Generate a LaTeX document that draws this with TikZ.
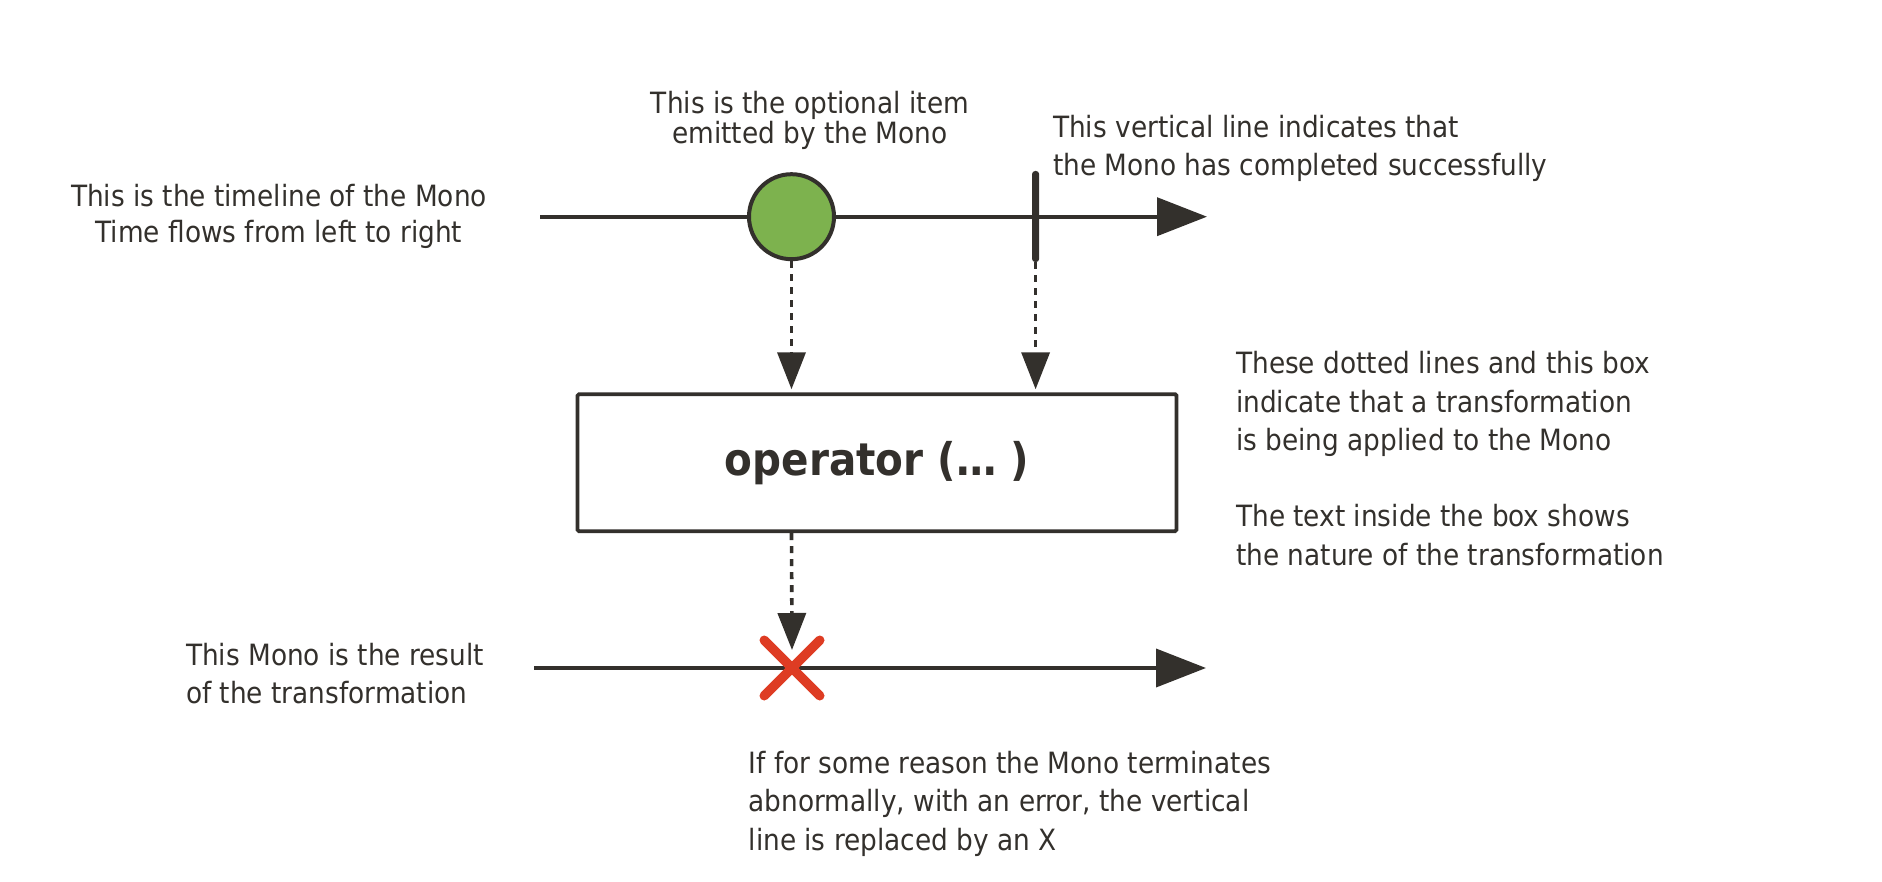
\documentclass[tikz,border=0pt]{standalone}
\usepackage{fontspec}
\setmainfont{DejaVu Sans Condensed}
\usetikzlibrary{arrows.meta,shapes.misc}
\definecolor{ink}{HTML}{33302C}
\definecolor{itemgreen}{HTML}{7DB24E}
\definecolor{errred}{HTML}{DE3C23}
\begin{document}
\begin{tikzpicture}[x=1pt,y=-1pt,
  every node/.style={text=ink},
  lbl/.style={inner sep=0pt, font=\fontsize{29.3}{38.3}\selectfont},
  timeline/.style={draw=ink, line width=3.8pt, -{Triangle[length=50pt,width=38pt]}},
  flow/.style={draw=ink, line width=3.6pt, dash pattern=on 7pt off 6pt,
     -{Triangle[length=37pt,width=28pt]}},
  opbox/.style={draw=ink, line width=3.8pt, rounded corners=1.5pt, minimum width=599pt,
     minimum height=137pt, inner sep=0pt, font=\fontsize{45}{50}\selectfont\bfseries},
  item/.style={circle, draw=ink, fill=itemgreen, line width=4pt, minimum size=85pt, inner sep=0pt},
  donemark/.style={fill=ink, rounded corners=3pt, minimum width=7pt, minimum height=91pt, inner sep=0pt},
  errmark/.style={cross out, draw=errred, line width=9.5pt, line cap=round, minimum size=46pt, inner sep=0pt}
]
\useasboundingbox (0,0) rectangle (1882,882);

% top timeline
\coordinate (t1s) at (540,216.7);
\coordinate (t1e) at (1207,216.7);
\draw[timeline] (t1s) -- (t1e);
\node[item] (item) at (791.5,216.7) {};
\node[donemark] (done) at (1035.6,216.5) {};

% operator box
\node[opbox] (box) at (877,462.7) {operator (… )};

% bottom timeline
\coordinate (t2s) at (534,668);
\coordinate (t2e) at (1206,668);
\draw[timeline] (t2s) -- (t2e);
\node[errmark] (err) at (792,668) {};

% dotted flows
\draw[flow, shorten >=3pt] (item.south) -- (item.south |- box.north);
\draw[flow, shorten >=3pt] (done.south) -- (done.south |- box.north);
\draw[flow] (item.south |- box.south) -- ([yshift=18pt]err.center);

% labels
\node[lbl, anchor=north, align=center, font=\fontsize{29.3}{30}\selectfont] (litem) at (810,91)
  {This is the optional item\\emitted by the Mono};
\node[lbl, anchor=north west, align=left] (ldone) at (1053,114.7)
  {This vertical line indicates that\\the Mono has completed successfully};
\node[lbl, anchor=north, align=center, font=\fontsize{29.3}{36.7}\selectfont] (ltime) at (279,183.7)
  {This is the timeline of the Mono\\Time flows from left to right};
\node[lbl, anchor=north west, align=left] (lbox) at (1236,351.3)
  {These dotted lines and this box\\indicate that a transformation\\is being applied to the Mono\\[38.3pt]The text inside the box shows\\the nature of the transformation};
\node[lbl, anchor=north west, align=left] (lres) at (186,643)
  {This Mono is the result\\of the transformation};
\node[lbl, anchor=north west, align=left] (lerr) at (748.5,751)
  {If for some reason the Mono terminates\\abnormally, with an error, the vertical\\line is replaced by an X};
\end{tikzpicture}
\end{document}
